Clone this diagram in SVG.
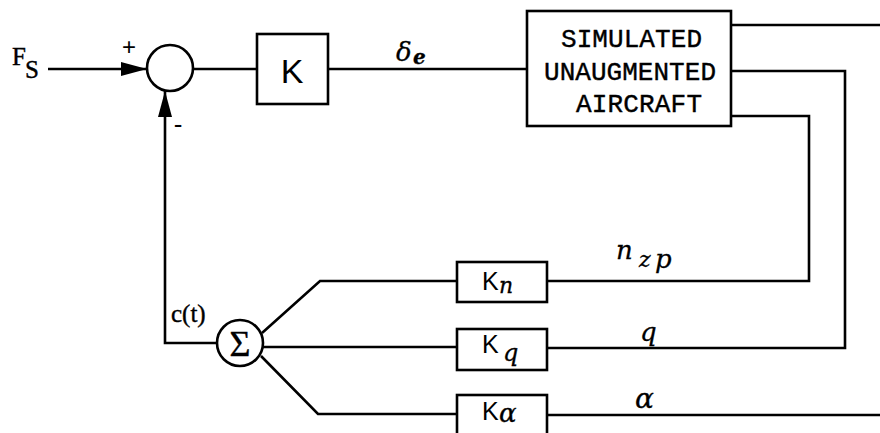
<svg xmlns="http://www.w3.org/2000/svg" width="880" height="433" viewBox="0 0 880 433">
<defs>
<marker id="arr" viewBox="0 0 26 14" refX="26" refY="7" markerWidth="26" markerHeight="14" markerUnits="userSpaceOnUse" orient="auto">
<path d="M0,0 L26,7 L0,14 Z" fill="#000"/>
</marker>
<style>
.ln{fill:none;stroke:#000;stroke-width:2.6;stroke-linejoin:miter}
.bx{fill:#fff;stroke:#000;stroke-width:2.6}
.mono{font-family:"Liberation Mono","DejaVu Sans Mono",monospace;font-size:26px;fill:#000;stroke:#000;stroke-width:0.4}
.ser{font-family:"Liberation Serif","DejaVu Serif",serif;fill:#000;stroke:#000;stroke-width:0.4}
.sans{font-family:"Liberation Sans","DejaVu Sans",sans-serif;fill:#000}
.hw{font-family:"DejaVu Serif","Liberation Serif",serif;font-style:italic;fill:#000;stroke:#000;stroke-width:0.3}
</style>
</defs>
<rect width="880" height="433" fill="#fff"/>

<g id="connectors">
<line class="ln" x1="48" y1="69" x2="147" y2="69" marker-end="url(#arr)"/>
<polyline class="ln" points="218,343 165,343 165,91" marker-end="url(#arr)"/>
<line class="ln" x1="193" y1="69" x2="257" y2="69"/>
<line class="ln" x1="328" y1="69" x2="527" y2="69"/>
<line class="ln" x1="731" y1="25" x2="880" y2="25"/>
<polyline class="ln" points="731,71 845,71 845,348 547,348"/>
<polyline class="ln" points="731,116 809,116 809,281 547,281"/>
<line class="ln" x1="547" y1="415" x2="880" y2="415"/>
<polyline class="ln" points="262,333 320,281 457,281"/>
<line class="ln" x1="263" y1="347" x2="457" y2="347"/>
<polyline class="ln" points="261,356 318,414 457,414"/>
</g>

<g id="fs-label">
<text class="ser" x="12" y="65" font-size="25">F</text>
<text class="ser" x="25" y="78" font-size="25">S</text>
</g>

<g id="sum1">
<circle class="bx" cx="170" cy="68" r="23"/>
<text class="sans" x="129" y="55" font-size="24" text-anchor="middle">+</text>
<text class="sans" x="178" y="133" font-size="26" text-anchor="middle">-</text>
</g>

<g id="k">
<rect class="bx" x="257" y="34" width="71" height="70"/>
<text class="sans" x="292" y="83" font-size="34" font-weight="300" text-anchor="middle">K</text>
</g>

<g id="delta-e">
<text class="hw" x="396" y="61" font-size="26">δ</text>
<text class="hw" x="413" y="64" font-size="20" font-weight="bold">e</text>
</g>

<g id="aircraft">
<rect class="bx" x="527" y="11" width="204" height="115"/>
<text class="mono" x="561" y="47" textLength="141" lengthAdjust="spacing">SIMULATED</text>
<text class="mono" x="544" y="80" textLength="172" lengthAdjust="spacing">UNAUGMENTED</text>
<text class="mono" x="576" y="112" textLength="126" lengthAdjust="spacing">AIRCRAFT</text>
</g>

<g id="sigma">
<circle class="bx" cx="240" cy="343" r="23"/>
<text class="ser" x="240" y="356" font-size="36" text-anchor="middle">Σ</text>
<text class="ser" x="171" y="322" font-size="25">c(t)</text>
</g>

<g id="kn">
<rect class="bx" x="457" y="262" width="90" height="40"/>
<text class="sans" x="482" y="290" font-size="25" font-weight="300">K</text>
<text class="hw" x="499" y="293" font-size="22">n</text>
</g>

<g id="kq">
<rect class="bx" x="457" y="329" width="90" height="41"/>
<text class="sans" x="482" y="353" font-size="25" font-weight="300">K</text>
<text class="hw" x="503" y="361" font-size="24">q</text>
</g>

<g id="ka">
<rect class="bx" x="457" y="395" width="90" height="40"/>
<text class="sans" x="482" y="420" font-size="25" font-weight="300">K</text>
<text class="hw" x="499" y="422" font-size="26">α</text>
</g>

<g id="labels">
<text class="hw" x="616" y="259" font-size="26">n</text>
<text class="hw" x="639" y="267" font-size="22">z</text>
<text class="hw" x="655" y="268" font-size="26">p</text>
<text class="hw" x="640" y="341" font-size="26">q</text>
<text class="hw" x="635" y="408" font-size="28">α</text>
</g>
</svg>
